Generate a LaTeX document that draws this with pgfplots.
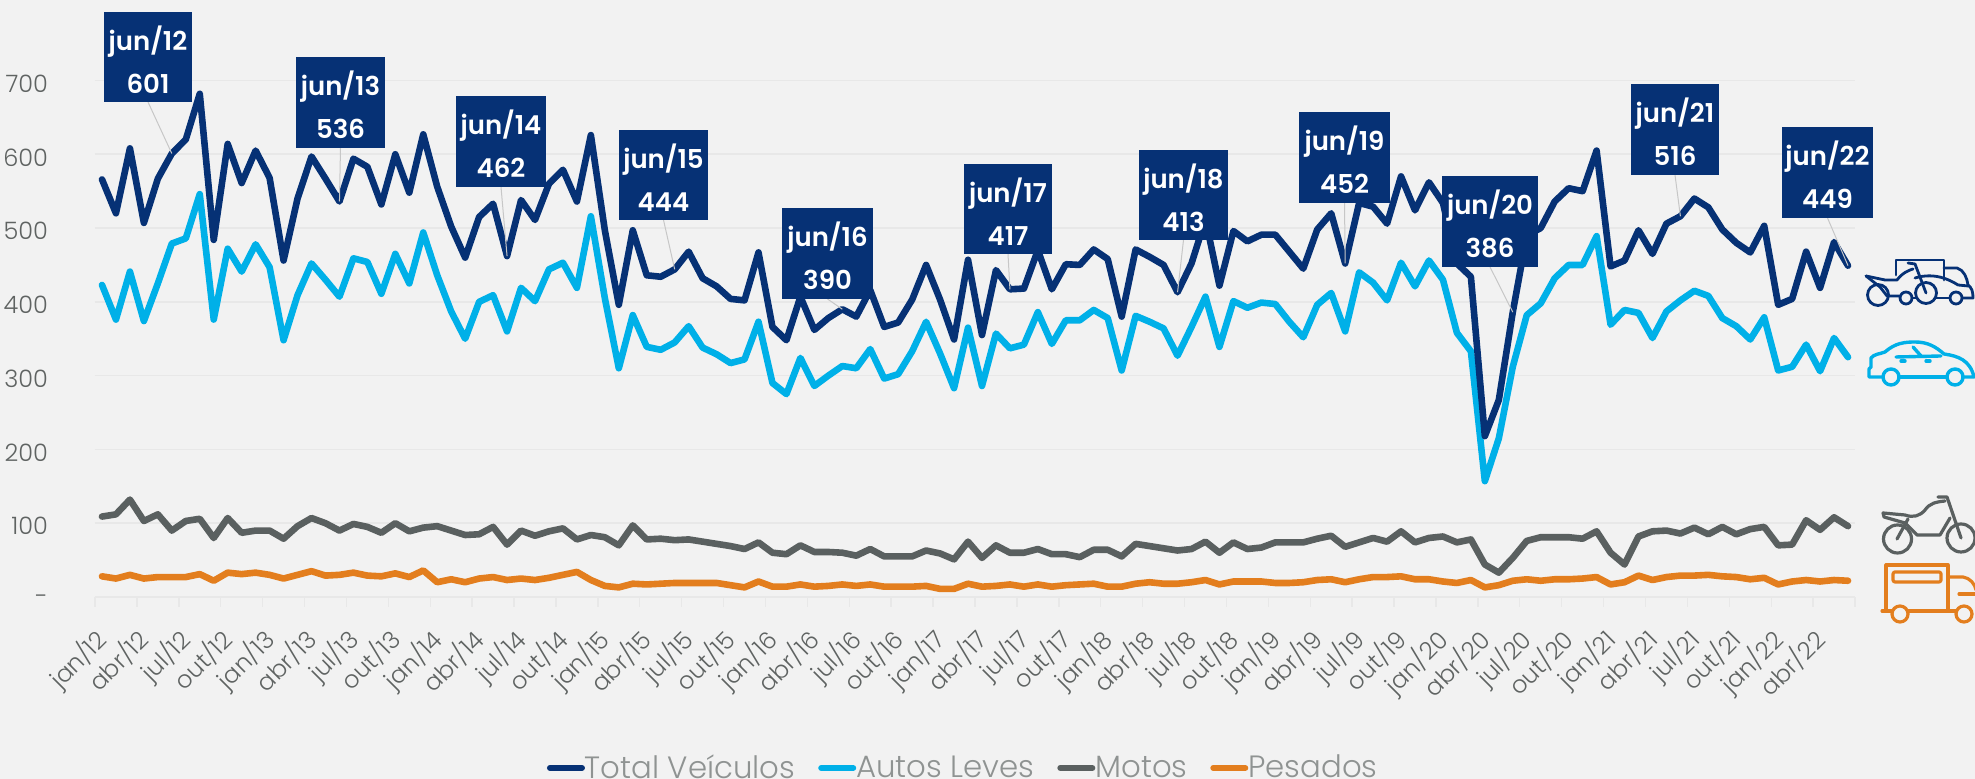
\documentclass[border=0pt]{standalone}
\usepackage{fontspec}
\usepackage{pgfplots}
\usepackage{pgfplotstable}
\pgfplotsset{compat=1.18}
\setmainfont{Poppins Light}
\newfontfamily\semib{Poppins SemiBold}
\definecolor{navy}{HTML}{063175}
\definecolor{cyanb}{HTML}{00B0E8}
\definecolor{grayl}{HTML}{5A6060}
\definecolor{orangel}{HTML}{E37E1E}
\definecolor{bg}{HTML}{F2F2F2}
\definecolor{gridc}{HTML}{E8E8E8}
\definecolor{txt}{HTML}{5F6362}
\definecolor{legt}{HTML}{8F9392}
\pgfplotstableread{
i t a m p
0 566 423 109 28
1 520 376 112 25
2 608 441 132 30
3 507 374 103 25
4 567 425 112 27
5 601 479 90 27
6 620 486 103 27
7 682 546 106 31
8 484 376 80 22
9 614 472 107 33
10 561 441 87 31
11 605 478 90 33
12 568 447 90 30
13 456 348 79 25
14 540 409 96 30
15 597 452 107 35
16 567 430 100 29
17 536 407 90 30
18 594 459 99 33
19 583 454 95 29
20 532 411 87 28
21 600 465 100 32
22 548 425 89 27
23 627 494 94 36
24 556 436 96 20
25 502 387 90 24
26 460 350 84 20
27 515 400 85 25
28 533 409 95 27
29 462 360 71 23
30 538 419 90 25
31 511 401 83 23
32 560 444 89 26
33 579 453 93 30
34 536 419 78 34
35 626 516 84 23
36 497 405 81 15
37 396 310 70 13
38 497 382 97 18
39 436 339 78 17
40 434 335 79 18
41 444 345 77 19
42 468 367 78 19
43 432 338 75 19
44 421 329 72 19
45 404 317 69 16
46 402 322 65 13
47 467 373 74 21
48 366 290 60 14
49 348 275 58 14
50 407 324 70 17
51 362 286 61 14
52 378 300 61 15
53 390 313 60 17
54 380 310 56 15
55 416 336 65 17
56 366 296 55 14
57 372 302 55 14
58 403 333 55 14
59 450 373 63 15
60 403 330 59 11
61 349 283 51 11
62 457 365 75 18
63 355 286 53 14
64 443 357 70 15
65 417 337 60 17
66 418 342 60 14
67 470 386 65 17
68 417 343 58 14
69 451 375 58 16
70 450 375 54 17
71 471 389 64 18
72 458 378 64 14
73 380 307 55 14
74 471 381 72 18
75 461 373 69 20
76 450 364 66 18
77 413 327 63 18
78 452 366 65 20
79 512 407 75 23
80 422 339 60 17
81 496 401 74 21
82 482 392 65 21
83 491 399 67 21
84 491 397 74 19
85 468 373 74 19
86 445 352 74 20
87 498 396 79 23
88 520 412 83 24
89 452 360 68 20
90 534 440 74 24
91 529 426 80 27
92 506 402 75 27
93 570 453 89 28
94 524 421 74 24
95 562 456 80 24
96 534 430 82 21
97 452 358 74 19
98 434 333 78 23
99 218 157 44 13
100 267 215 33 16
101 386 312 53 22
102 490 382 76 24
103 500 398 81 22
104 536 432 81 24
105 554 450 81 24
106 550 450 79 25
107 605 489 89 27
108 448 369 60 17
109 456 389 44 20
110 497 385 82 29
111 465 351 89 23
112 506 387 90 27
113 516 402 86 29
114 540 415 94 29
115 528 408 85 30
116 498 378 95 28
117 480 367 85 27
118 467 349 92 24
119 503 379 95 26
120 396 307 70 17
121 404 312 71 21
122 468 342 104 23
123 419 306 91 21
124 481 351 108 23
125 449 325 96 22
}\datatable
\begin{document}
\begin{tikzpicture}
\path[use as bounding box] (0,0) rectangle (987.5pt,389.5pt);
\clip (0,0) rectangle (987.5pt,389.5pt);
\fill[bg] (0,0) rectangle (987.5pt,389.5pt);
\begin{axis}[
  at={(47.5pt,91pt)}, anchor=south west,
  scale only axis, width=880pt, height=258.25pt,
  xmin=-0.5, xmax=125.5, ymin=0, ymax=700,
  clip=false,
  axis line style={draw=none},
  axis x line*=bottom, axis y line*=left,
  ytick={0,100,...,700},
  yticklabels={\raisebox{-3.5pt}{-}\hspace{7pt},100,200,300,400,500,600,700},
  yticklabel style={font=\fontsize{12}{14}\selectfont, text=txt, xshift=-15pt, yshift=-1.5pt, anchor=east},
  ymajorgrids, major grid style={gridc, line width=0.8pt},
  tick align=outside,
  tickwidth=5pt,
  xtick style={draw=none}, ytick style={draw=none},
  xtick={0,3,...,123},
  xticklabels={jan/12,abr/12,jul/12,out/12,jan/13,abr/13,jul/13,out/13,jan/14,abr/14,jul/14,out/14,jan/15,abr/15,jul/15,out/15,jan/16,abr/16,jul/16,out/16,jan/17,abr/17,jul/17,out/17,jan/18,abr/18,jul/18,out/18,jan/19,abr/19,jul/19,out/19,jan/20,abr/20,jul/20,out/20,jan/21,abr/21,jul/21,out/21,jan/22,abr/22},
  xticklabel style={font=\fontsize{12}{14}\selectfont, text=txt, rotate=45, anchor=north east, inner sep=0pt, xshift=-9.7pt, yshift=-3.1pt},
  extra x ticks={-0.5,2.5,...,125.5},
  extra x tick labels={},
  extra x tick style={xtick style={draw=gridc, line width=0.7pt}},
  legend columns=4,
  legend style={at={(rel axis cs:0.2568,-0.331)}, anchor=west, draw=none, fill=none, inner sep=0pt, outer sep=0pt,
    font=\fontsize{15.4}{18}\selectfont, text=legt,
    /tikz/every odd column/.append style={column sep=-2pt},
    /tikz/every even column/.append style={column sep=9.4pt}},
  legend cell align=left,
  legend image code/.code={\draw[#1, line width=3pt, line cap=round] (0pt,0pt) -- (16pt,0pt);},
  every axis plot/.append style={line width=3.3pt, line cap=round, line join=round, mark=none},
]
\addplot[orangel, forget plot] table[x=i,y=p] {\datatable};
\addplot[grayl, forget plot] table[x=i,y=m] {\datatable};
\addplot[cyanb, forget plot] table[x=i,y=a] {\datatable};
\addplot[navy] table[x=i,y=t] {\datatable};
\addlegendentry{Total Veículos}
\addlegendimage{cyanb}\addlegendentry{Autos Leves}
\addlegendimage{grayl}\addlegendentry{Motos}
\addlegendimage{orangel}\addlegendentry{Pesados}
\coordinate (p5) at (axis cs:5,601);
\coordinate (p17) at (axis cs:17,536);
\coordinate (p29) at (axis cs:29,462);
\coordinate (p41) at (axis cs:41,444);
\coordinate (p53) at (axis cs:53,390);
\coordinate (p65) at (axis cs:65,417);
\coordinate (p77) at (axis cs:77,413);
\coordinate (p89) at (axis cs:89,452);
\coordinate (p101) at (axis cs:101,386);
\coordinate (p113) at (axis cs:113,516);
\coordinate (p125) at (axis cs:125,449);
\end{axis}
\begin{scope}[x=0.5pt,y=-0.5pt,yshift=389.5pt]
\newcommand{\callout}[7]{% l t r b label value point
  \draw[black!22, line width=0.5pt] ({(#1+#3)/2},#4) -- (#7);
  \fill[navy] (#1,#2) rectangle (#3,#4);
  \node[text=white, font=\semib\fontsize{13}{15}\selectfont, inner sep=0pt, anchor=center] at ({(#1+#3)/2},{#2+30}) {#5};
  \node[text=white, font=\semib\fontsize{13}{15}\selectfont, inner sep=0pt, anchor=center] at ({(#1+#3)/2},{#2+72}) {#6};
}
\callout{104}{12}{192}{102}{jun/12}{601}{p5}
\callout{296}{57}{385}{148}{jun/13}{536}{p17}
\callout{456}{96}{546}{187}{jun/14}{462}{p29}
\callout{619}{130}{708}{220}{jun/15}{444}{p41}
\callout{782}{208}{873}{299}{jun/16}{390}{p53}
\callout{964}{164}{1052}{254}{jun/17}{417}{p65}
\callout{1139}{150}{1228}{240}{jun/18}{413}{p77}
\callout{1299}{112}{1390}{203}{jun/19}{452}{p89}
\callout{1442}{176}{1538}{267}{jun/20}{386}{p101}
\callout{1631}{84}{1719}{175}{jun/21}{516}{p113}
\callout{1782}{127}{1873}{218}{jun/22}{449}{p125}
% car icon
\begin{scope}[cyanb, line width=1.7pt, line join=round, line cap=round]
\draw (1882,377) -- (1869,377) -- (1869,369) -- (1871,367) -- (1871,358) .. controls (1874,354) and (1880,354) .. (1885,352) .. controls (1895,343) and (1905,342) .. (1915,342) .. controls (1928,342) and (1936,347) .. (1944,354) .. controls (1958,356) and (1970,360) .. (1974,377) -- (1964,377);
\draw (1899,377) -- (1947,377);
\draw (1891,377) circle (8);
\draw (1955,377) circle (8);
\draw (1896,357) -- (1941,356);
\draw (1913,347) -- (1921,356);
\draw (1901,361) -- (1905,361);
\draw (1926,361) -- (1930,361);
\end{scope}
% composite icon
\begin{scope}[navy, line width=1.4pt, line join=round, line cap=round]
\draw (1896,275) -- (1896,260) -- (1944,260) -- (1944,280);
\draw (1944,268) -- (1957,268) .. controls (1964,270) and (1967,278) .. (1968,285) .. controls (1972,288) and (1973,292) .. (1973,298) -- (1963,298);
\draw (1913,298) -- (1916,298); \draw (1936,298) -- (1949,298);
\draw (1906,298) circle (6); \draw (1956,298) circle (6);
\draw (1926,293) circle (10.5); \draw (1878,295) circle (10.5);
\draw (1866,276) -- (1885,280) -- (1897,280) .. controls (1903,272) and (1910,270) .. (1913,269);
\draw (1866,276) -- (1880,287) -- (1887,296) -- (1899,296);
\draw (1908,263) -- (1915,264) -- (1926,293);
\draw (1915,278) .. controls (1935,272) and (1950,280) .. (1958,285) -- (1968,286);
\end{scope}
% motorcycle icon
\begin{scope}[grayl, line width=1.6pt, line join=round, line cap=round]
\draw (1897.5,539) circle (14); \draw (1961,538) circle (14);
\draw (1938,497) -- (1947,497) -- (1961,538);
\draw (1883,513) -- (1905,515) .. controls (1913,518) and (1920,516) .. (1925,510) .. controls (1930,503) and (1936,502) .. (1945,501);
\draw (1883,513) -- (1884,517) -- (1905,523) -- (1917,535) -- (1940,535) -- (1950,518);
\draw (1897,539) -- (1908,519);
\end{scope}
% truck icon
\begin{scope}[orangel, line width=1.6pt, line join=round, line cap=round]
\draw (1892,611) -- (1886,611) -- (1886,565) -- (1948,565) -- (1948,611) -- (1956,611);
\draw (1908,611) -- (1948,611);
\draw (1882,611) -- (1892,611);
\draw[rounded corners=1] (1893,572) rectangle (1941,582);
\draw (1948,577) -- (1963,577) .. controls (1970,578) and (1975,584) .. (1976,590);
\draw (1959,594) -- (1976,594);
\draw (1900,614) circle (8); \draw (1964,614) circle (8);
\end{scope}
\end{scope}
\end{tikzpicture}
\end{document}
